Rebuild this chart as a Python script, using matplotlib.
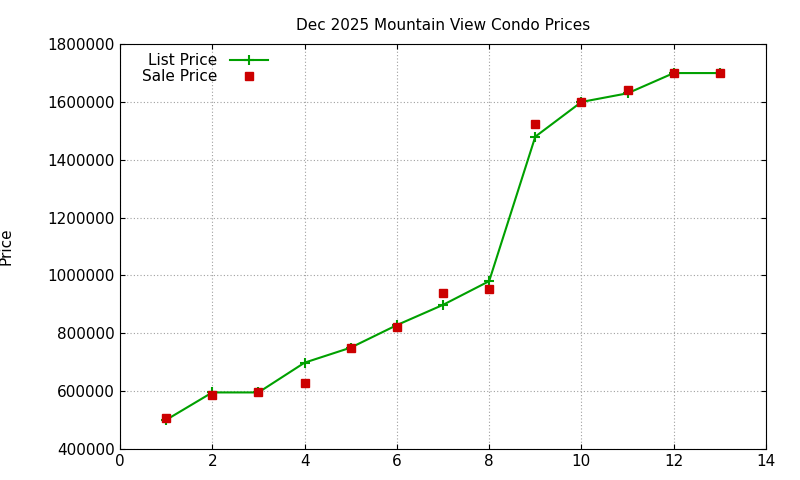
import matplotlib
matplotlib.use("Agg")
import matplotlib.pyplot as plt
from matplotlib.ticker import FuncFormatter

# values
listings = [1, 2, 3, 4, 5, 6, 7, 8, 9, 10, 11, 12, 13]
list_price = [500000, 595000, 595000, 698000, 750000, 828000, 898000, 980000,
              1480000, 1600000, 1630000, 1700000, 1700000]
sale_price = [505000, 585000, 595000, 628000, 750000, 820000, 940000, 952000,
              1525000, 1600000, 1640000, 1700000, 1700000]

fig = plt.figure(figsize=(8, 4.8), dpi=100)
ax = fig.add_axes([0.15, 0.065, 0.8075, 0.843])

ax.plot(listings, list_price, color="#00a000", lw=1.5, marker="+", ms=7,
        mew=1.5, label="List Price")
ax.plot(listings, sale_price, ls="none", marker="s", ms=6, color="#cc0000",
        label="Sale Price")

ax.set_xlim(0, 14)
ax.set_ylim(400000, 1800000)
ax.set_xticks(range(0, 15, 2))
ax.set_yticks(range(400000, 1800001, 200000))
ax.yaxis.set_major_formatter(FuncFormatter(lambda v, p: "%d" % v))
ax.grid(True, ls=(0, (1, 2)), color="#a0a0a0", lw=0.8)
ax.tick_params(direction="in", top=True, right=True, labelsize=11)
ax.set_title("Dec 2025 Mountain View Condo Prices", fontsize=11, pad=10)
ax.set_ylabel("Price", fontsize=11)
ax.yaxis.set_label_coords(-0.165, 0.5)
ax.legend(loc="upper left", frameon=False, markerfirst=False, fontsize=11,
          handlelength=2.5, borderaxespad=0.2, labelspacing=0.05,
          bbox_to_anchor=(0.02, 1.0))

fig.savefig("out.png")
